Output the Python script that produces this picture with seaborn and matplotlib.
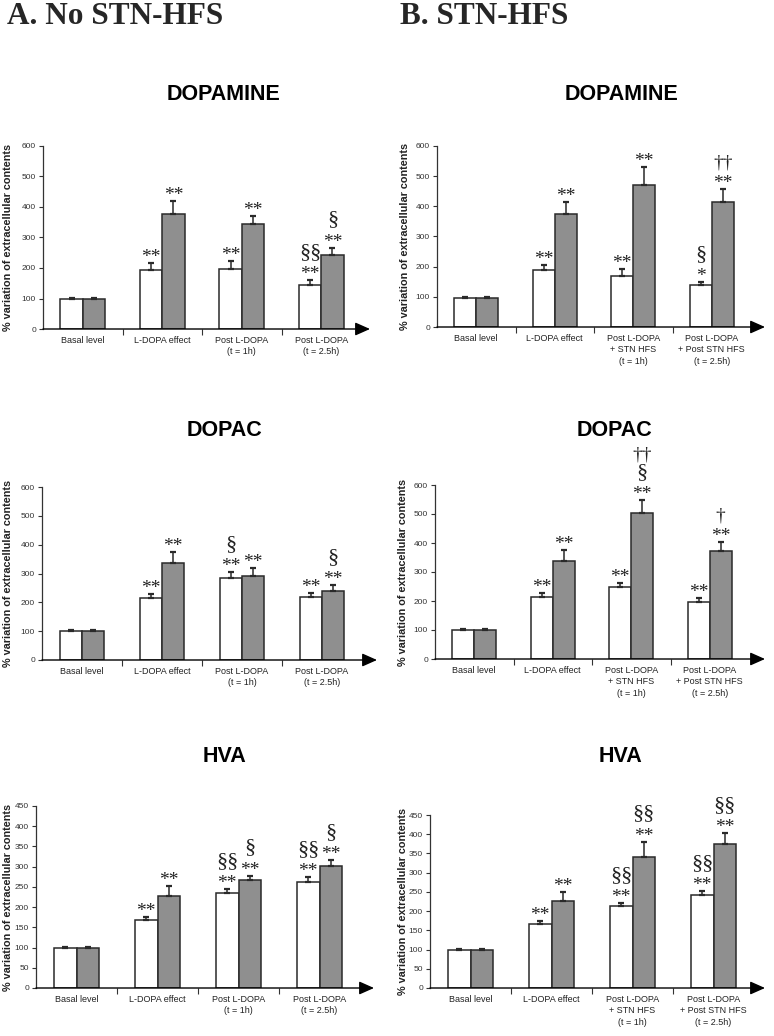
import numpy as np
import pandas as pd
import matplotlib
matplotlib.use("Agg")
import matplotlib.pyplot as plt
import seaborn as sns

sns.set_theme(style="white")
plt.rcParams["font.family"] = ["Liberation Sans", "DejaVu Sans"]

# ---------------- data ----------------
groups = ["ctrl", "treated"]
cats_a = ["Basal level", "L-DOPA effect", "Post L-DOPA\n(t = 1h)", "Post L-DOPA\n(t = 2.5h)"]
cats_b = ["Basal level", "L-DOPA effect", "Post L-DOPA\n+ STN HFS\n(t = 1h)",
          "Post L-DOPA\n+ Post STN HFS\n(t = 2.5h)"]

da_a_white = [100, 193, 198, 143]
da_a_grey = [100, 377, 344, 244]
da_a_white_err = [3, 22, 24, 17]
da_a_grey_err = [3, 43, 25, 23]
da_a_white_sig = ["", "**", "**", "§§\n**"]
da_a_grey_sig = ["", "**", "**", "§\n**"]

da_b_white = [95, 188, 170, 138]
da_b_grey = [95, 374, 472, 416]
da_b_white_err = [3, 17, 23, 12]
da_b_grey_err = [3, 42, 60, 43]
da_b_white_sig = ["", "**", "**", "§\n*"]
da_b_grey_sig = ["", "**", "**", "††\n**"]

dc_a_white = [100, 216, 284, 217]
dc_a_grey = [100, 338, 293, 240]
dc_a_white_err = [3, 13, 20, 14]
dc_a_grey_err = [3, 38, 26, 20]
dc_a_white_sig = ["", "**", "§\n**", "**"]
dc_a_grey_sig = ["", "**", "**", "§\n**"]

dc_b_white = [101, 215, 247, 198]
dc_b_grey = [101, 338, 503, 374]
dc_b_white_err = [3, 13, 14, 14]
dc_b_grey_err = [3, 37, 45, 30]
dc_b_white_sig = ["", "**", "**", "**"]
dc_b_grey_sig = ["", "**", "††\n§\n**", "†\n**"]

hva_a_white = [98, 167, 234, 263]
hva_a_grey = [98, 227, 267, 302]
hva_a_white_err = [4, 8, 10, 11]
hva_a_grey_err = [4, 24, 11, 14]
hva_a_white_sig = ["", "**", "§§\n**", "§§\n**"]
hva_a_grey_sig = ["", "**", "§\n**", "§\n**"]

hva_b_white = [98, 167, 212, 243]
hva_b_grey = [98, 226, 341, 375]
hva_b_white_err = [4, 8, 10, 10]
hva_b_grey_err = [4, 25, 40, 27]
hva_b_white_sig = ["", "**", "§§\n**", "§§\n**"]
hva_b_grey_sig = ["", "**", "§§\n**", "§§\n**"]

ylabel = "% variation of extracellular contents"

# ---------------- layout (pixels) ----------------
W, H = 774, 1036
DPI = 100
fig = plt.figure(figsize=(W / DPI, H / DPI), dpi=DPI)

PT = 72.0 / DPI  # points per pixel

def px_axes(x0, ytop, x1, ybot):
    return fig.add_axes([x0 / W, 1 - ybot / H, (x1 - x0) / W, (ybot - ytop) / H])

panels = [
    dict(x0=43, ytop=146, tip=370, ybot=329, catw=79.5, ymax=600, ystep=100,
         title="DOPAMINE", txy=(223, 94), cats=cats_a,
         w=da_a_white, g=da_a_grey, we=da_a_white_err, ge=da_a_grey_err,
         ws=da_a_white_sig, gs=da_a_grey_sig, loff=30),
    dict(x0=437, ytop=146, tip=765, ybot=327, catw=78.5, ymax=600, ystep=100,
         title="DOPAMINE", txy=(622, 94), cats=cats_b,
         w=da_b_white, g=da_b_grey, we=da_b_white_err, ge=da_b_grey_err,
         ws=da_b_white_sig, gs=da_b_grey_sig, loff=27),
    dict(x0=42, ytop=487, tip=377, ybot=660, catw=80, ymax=600, ystep=100,
         title="DOPAC", txy=(225, 430), cats=cats_a,
         w=dc_a_white, g=dc_a_grey, we=dc_a_white_err, ge=dc_a_grey_err,
         ws=dc_a_white_sig, gs=dc_a_grey_sig, loff=29),
    dict(x0=435, ytop=485, tip=765, ybot=659, catw=78.5, ymax=600, ystep=100,
         title="DOPAC", txy=(614, 431), cats=cats_b,
         w=dc_b_white, g=dc_b_grey, we=dc_b_white_err, ge=dc_b_grey_err,
         ws=dc_b_white_sig, gs=dc_b_grey_sig, loff=27),
    dict(x0=36, ytop=806, tip=374, ybot=988, catw=81, ymax=450, ystep=50,
         title="HVA", txy=(225, 756), cats=cats_a,
         w=hva_a_white, g=hva_a_grey, we=hva_a_white_err, ge=hva_a_grey_err,
         ws=hva_a_white_sig, gs=hva_a_grey_sig, loff=23),
    dict(x0=430, ytop=815, tip=765, ybot=988, catw=81, ymax=450, ystep=50,
         title="HVA", txy=(620, 757), cats=cats_b,
         w=hva_b_white, g=hva_b_grey, we=hva_b_white_err, ge=hva_b_grey_err,
         ws=hva_b_white_sig, gs=hva_b_grey_sig, loff=22),
]

GREY = "#8f8f8f"
EDGE = "#2a2a2a"
SERIF = ["Liberation Serif", "DejaVu Serif"]


def stack_text(ax, x, y, label):
    """Draw significance symbols stacked upward above (x, y)."""
    lines = label.split("\n")[::-1]  # bottom first
    off = 4.0  # pixels above error bar top
    for ln in lines:
        if ln.startswith("*"):
            ax.annotate(ln, (x, y), xytext=(0, (off - 7) * PT), textcoords="offset points",
                        ha="center", va="bottom", fontsize=14, family=SERIF,
                        color="#222222", annotation_clip=False)
            off += 10
        elif ln.startswith("§"):
            ax.annotate(ln, (x, y), xytext=(0, (off + 4) * PT), textcoords="offset points",
                        ha="center", va="bottom", fontsize=16, family=SERIF,
                        color="#222222", annotation_clip=False)
            off += 20
        else:  # daggers
            ax.annotate(ln, (x, y), xytext=(0, (off + 3) * PT), textcoords="offset points",
                        ha="center", va="bottom", fontsize=14, family=SERIF,
                        color="#222222", annotation_clip=False)
            off += 19


for p in panels:
    ax = px_axes(p["x0"], p["ytop"], p["tip"], p["ybot"])
    n = len(p["cats"])
    df = pd.DataFrame({
        "cat": list(p["cats"]) * 2,
        "val": list(p["w"]) + list(p["g"]),
        "grp": [groups[0]] * n + [groups[1]] * n,
    })
    sns.barplot(data=df, x="cat", y="val", hue="grp", order=p["cats"], hue_order=groups,
                palette=["white", GREY], edgecolor=EDGE, linewidth=1.1, width=0.56,
                errorbar=None, legend=False, ax=ax, saturation=1)
    xmax = -0.5 + (p["tip"] - p["x0"]) / p["catw"]
    ax.set_xlim(-0.5, xmax)
    ax.set_ylim(0, p["ymax"])

    bars = sorted(ax.patches, key=lambda r: r.get_x())
    vals = []
    for i in range(n):
        vals.append((p["w"][i], p["we"][i], p["ws"][i]))
        vals.append((p["g"][i], p["ge"][i], p["gs"][i]))
    for rect, (v, e, s) in zip(bars, vals):
        cx = rect.get_x() + rect.get_width() / 2
        ax.errorbar([cx], [v], yerr=[[0], [e]], fmt="none", ecolor=EDGE,
                    elinewidth=1.1, capsize=2.4, capthick=1.6, zorder=1)
        if s:
            stack_text(ax, cx, v + e, s)

    for side in ("top", "right", "bottom"):
        ax.spines[side].set_visible(False)
    ax.spines["left"].set_color("#333333")
    ax.spines["left"].set_linewidth(0.9)
    ax.set_yticks(np.arange(0, p["ymax"] + 1, p["ystep"]))
    ax.tick_params(axis="y", which="major", length=3, width=0.8, color="#333333",
                   labelsize=6.0, labelcolor="#333333", pad=2, left=True)
    ax.set_xticks(range(n))
    ax.set_xticklabels(p["cats"], fontsize=6.5, color="#222222", linespacing=1.35)
    ax.tick_params(axis="x", which="major", length=0, pad=5)
    ax.set_xticks([0.5, 1.5, 2.5], minor=True)
    ax.tick_params(axis="x", which="minor", length=4, width=0.8, color="#333333",
                   bottom=True, direction="out")
    ax.set_xlabel("")
    ax.set_ylabel(ylabel, fontsize=7.8, fontweight="bold", color="#222222")
    ax.yaxis.set_label_coords(-p["loff"] / (p["tip"] - p["x0"]), 0.5)
    ax.grid(False)
    ax.set_facecolor("none")

    ax.annotate("", xy=(1, 0), xytext=(0, 0), xycoords="axes fraction",
                textcoords="axes fraction", annotation_clip=False,
                arrowprops=dict(arrowstyle="-|>,head_length=0.9,head_width=0.4",
                                mutation_scale=10, color="black", lw=1.0,
                                shrinkA=0, shrinkB=0))

    fig.text(p["txy"][0] / W, 1 - p["txy"][1] / H, p["title"], ha="center", va="center",
             fontsize=15.5, fontweight="bold", color="black")

fig.text(7 / W, 1 - 16 / H, "A. No STN-HFS", ha="left", va="center", fontsize=22.5,
         fontweight="bold", family=SERIF)
fig.text(400 / W, 1 - 16 / H, "B. STN-HFS", ha="left", va="center", fontsize=22.5,
         fontweight="bold", family=SERIF)

fig.savefig("out.png", dpi=DPI, facecolor="white")
